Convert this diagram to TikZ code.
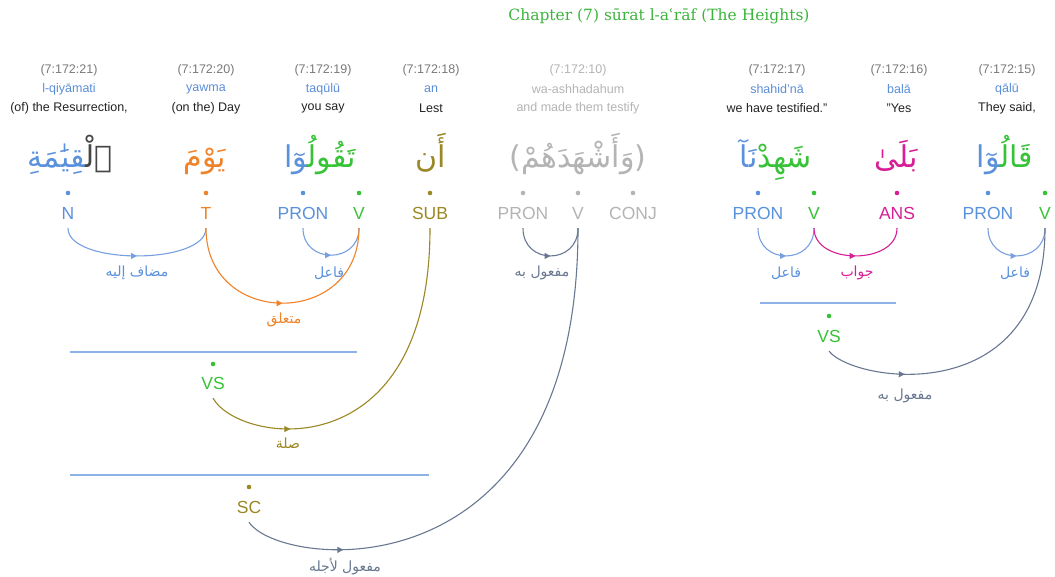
\documentclass[tikz,border=0pt]{standalone}
\usepackage{fontspec}
\setmainfont{Liberation Sans}
\newfontfamily\titlefont{DejaVu Serif}
\newfontfamily\arabicfont[Script=Arabic]{DejaVu Sans}
\TeXXeTstate=1
\usetikzlibrary{arrows.meta,decorations.markings}

\definecolor{locgray}{RGB}{122,122,122}
\definecolor{trblue}{RGB}{91,142,216}
\definecolor{glossblack}{RGB}{34,34,34}
\definecolor{nounblue}{RGB}{90,145,220}
\definecolor{verbgreen}{RGB}{55,195,55}
\definecolor{timeorange}{RGB}{240,130,40}
\definecolor{subolive}{RGB}{155,135,35}
\definecolor{ansmagenta}{RGB}{215,30,150}
\definecolor{faded}{RGB}{180,180,180}
\definecolor{objslate}{RGB}{105,120,145}
\definecolor{linkblue}{RGB}{120,160,225}
\definecolor{barblue}{RGB}{140,178,232}
\definecolor{titlegreen}{RGB}{60,180,60}
\definecolor{detgray}{RGB}{70,70,70}

% joiner used where a coloured segment continues into the next one
\newcommand{\zwj}{^^^^200d}

\tikzset{
  loc/.style={font=\fontsize{12.5}{14}\selectfont, text=locgray, inner sep=0},
  translit/.style={font=\fontsize{12.5}{14}\selectfont, text=trblue, inner sep=0},
  gloss/.style={font=\fontsize{12.5}{14}\selectfont, text=glossblack, inner sep=0},
  word/.style={font=\arabicfont\fontsize{30}{36}\selectfont, inner sep=0, anchor=base},
  tag/.style={font=\fontsize{17.5}{19}\selectfont, inner sep=0, minimum height=30},
  posdot/.style={circle, fill, inner sep=0, minimum size=4.6},
  rel/.style={font=\arabicfont\fontsize{14}{16}\selectfont, inner sep=0},
  bar/.style={barblue, line width=1.8pt},
  deparc/.style={line width=1.1pt, postaction={decorate},
    decoration={markings, mark=at position #1 with {\arrow{Triangle[length=6pt,width=6pt]}}}},
  deparc/.default=0.5,
}

\begin{document}
\begin{tikzpicture}[x=1pt,y=-1pt]
\fill[white] (0,0) rectangle (1055,577);
\useasboundingbox (0,0) rectangle (1055,577);

% title
\node[font=\titlefont\fontsize{15.5}{18}\selectfont, text=titlegreen, inner sep=0] (title) at (659,16) {Chapter (7) sūrat l-aʿrāf (The Heights)};

% ---- word 21 (segments written left to right as they appear)
\node[loc] (l21) at (69,70) {(7:172:21)};
\node[translit] (t21) at (69,89) {l-qiyāmati};
\node[gloss] (g21) at (69,108) {(of) the Resurrection,};
\node[word] (w21) at (70,168) {{\color{nounblue}\zwj قِيَٰمَةِ}{\color{detgray}ٱلْ\zwj}};
\node[posdot, nounblue] (d21) at (68,193) {};
\node[tag, text=nounblue] (n21) at (68,213) {N};

% ---- word 20
\node[loc] (l20) at (206,70) {(7:172:20)};
\node[translit] (t20) at (206,89) {yawma};
\node[gloss] (g20) at (206,108) {(on the) Day};
\node[word, text=timeorange] (w20) at (205,168) {يَوْمَ};
\node[posdot, timeorange] (d20) at (206,193) {};
\node[tag, text=timeorange] (n20) at (206,213) {T};

% ---- word 19
\node[loc] (l19) at (323,70) {(7:172:19)};
\node[translit] (t19) at (323,89) {taqūlū};
\node[gloss] (g19) at (323,108) {you say};
\node[word] (w19) at (320,168) {{\color{nounblue}\zwj وٓا}{\color{verbgreen}تَقُولُ\zwj}};
\node[posdot, nounblue] (d19a) at (303,193) {};
\node[posdot, verbgreen] (d19b) at (359,193) {};
\node[tag, text=nounblue] (n19a) at (303,213) {PRON};
\node[tag, text=verbgreen] (n19b) at (359,213) {V};

% ---- word 18
\node[loc] (l18) at (431,70) {(7:172:18)};
\node[translit] (t18) at (431,89) {an};
\node[gloss] (g18) at (431,108) {Lest};
\node[word, text=subolive] (w18) at (431,168) {أَن};
\node[posdot, subolive] (d18) at (430,193) {};
\node[tag, text=subolive] (n18) at (430,213) {SUB};

% ---- word 10 (referenced)
\node[loc, text=faded] (l10) at (578,70) {(7:172:10)};
\node[translit, text=faded] (t10) at (578,89) {wa-ashhadahum};
\node[gloss, text=faded] (g10) at (578,108) {and made them testify};
\node[word, text=faded] (w10) at (578,168) {(وَأَشْهَدَهُمْ)};
\node[posdot, faded] (d10a) at (523,193) {};
\node[posdot, faded] (d10b) at (578,193) {};
\node[posdot, faded] (d10c) at (633,193) {};
\node[tag, text=faded] (n10a) at (523,213) {PRON};
\node[tag, text=faded] (n10b) at (578,213) {V};
\node[tag, text=faded] (n10c) at (633,213) {CONJ};

% ---- word 17
\node[loc] (l17) at (777,70) {(7:172:17)};
\node[translit] (t17) at (777,89) {shahid'nā};
\node[gloss] (g17) at (777,108) {we have testified."};
\node[word] (w17) at (776,168) {{\color{nounblue}نَآ}{\color{verbgreen}شَهِدْ}};
\node[posdot, nounblue] (d17a) at (758,193) {};
\node[posdot, verbgreen] (d17b) at (814,193) {};
\node[tag, text=nounblue] (n17a) at (758,213) {PRON};
\node[tag, text=verbgreen] (n17b) at (814,213) {V};

% ---- word 16
\node[loc] (l16) at (899,70) {(7:172:16)};
\node[translit] (t16) at (899,89) {balā};
\node[gloss] (g16) at (899,108) {"Yes};
\node[word, text=ansmagenta] (w16) at (896,168) {بَلَىٰ};
\node[posdot, ansmagenta] (d16) at (897,193) {};
\node[tag, text=ansmagenta] (n16) at (897,213) {ANS};

% ---- word 15
\node[loc] (l15) at (1007,70) {(7:172:15)};
\node[translit] (t15) at (1007,89) {qālū};
\node[gloss] (g15) at (1007,108) {They said,};
\node[word] (w15) at (1005,168) {{\color{nounblue}\zwj وٓا}{\color{verbgreen}قَالُ\zwj}};
\node[posdot, nounblue] (d15a) at (988,193) {};
\node[posdot, verbgreen] (d15b) at (1045,193) {};
\node[tag, text=nounblue] (n15a) at (988,213) {PRON};
\node[tag, text=verbgreen] (n15b) at (1045,213) {V};

% ---- phrase nodes
\draw[bar] (70,352) -- (357,352);
\node[posdot, verbgreen] (dvs1) at (213,364) {};
\node[tag, text=verbgreen] (vs1) at (213,383) {VS};

\draw[bar] (70,475) -- (429,475);
\node[posdot, subolive] (dsc) at (249,487) {};
\node[tag, text=subolive] (sc) at (249,507) {SC};

\draw[bar] (760,303) -- (896,303);
\node[posdot, verbgreen] (dvs2) at (829,316) {};
\node[tag, text=verbgreen] (vs2) at (829,336) {VS};

% ---- dependency arcs
\draw[deparc, linkblue] (n21.south) .. controls +(0,37) and +(0,37) .. (n20.south);
\node[rel, text=nounblue] (r1) at (137,273) {\beginR مضاف إليه\endR};

\draw[deparc, linkblue] (n19a.south) .. controls +(0,36) and +(0,36) .. (n19b.south);
\node[rel, text=nounblue] (r2) at (329,273) {فاعل};

\draw[deparc, timeorange] (n20.south) .. controls +(0,100) and +(0,100) .. (n19b.south);
\node[rel, text=timeorange] (r3) at (284,320) {متعلق};

\draw[deparc=0.24, subolive] (vs1.south) .. controls +(27,47) and +(0,242) .. (n18.south);
\node[rel, text=subolive] (r4) at (288,443) {صلة};

\draw[deparc, objslate] (n10a.south) .. controls +(0,37) and +(0,37) .. (n10b.south);
\node[rel, text=objslate] (r5) at (542,273) {\beginR مفعول به\endR};

\draw[deparc=0.185, objslate] (sc.south) .. controls +(31,47) and +(0,372) .. (n10b.south);
\node[rel, text=objslate] (r6) at (345,567) {\beginR مفعول لأجله\endR};

\draw[deparc, linkblue] (n17a.south) .. controls +(0,37) and +(0,37) .. (n17b.south);
\node[rel, text=nounblue] (r7) at (786,273) {فاعل};

\draw[deparc, ansmagenta] (n17b.south) .. controls +(0,37) and +(0,37) .. (n16.south);
\node[rel, text=ansmagenta] (r8) at (857,273) {جواب};

\draw[deparc, linkblue] (n15a.south) .. controls +(0,37) and +(0,37) .. (n15b.south);
\node[rel, text=nounblue] (r9) at (1015,273) {فاعل};

\draw[deparc=0.26, objslate] (vs2.south) .. controls +(26,32) and +(0,182) .. (n15b.south);
\node[rel, text=objslate] (r10) at (905,396) {\beginR مفعول به\endR};
\end{tikzpicture}
\end{document}
